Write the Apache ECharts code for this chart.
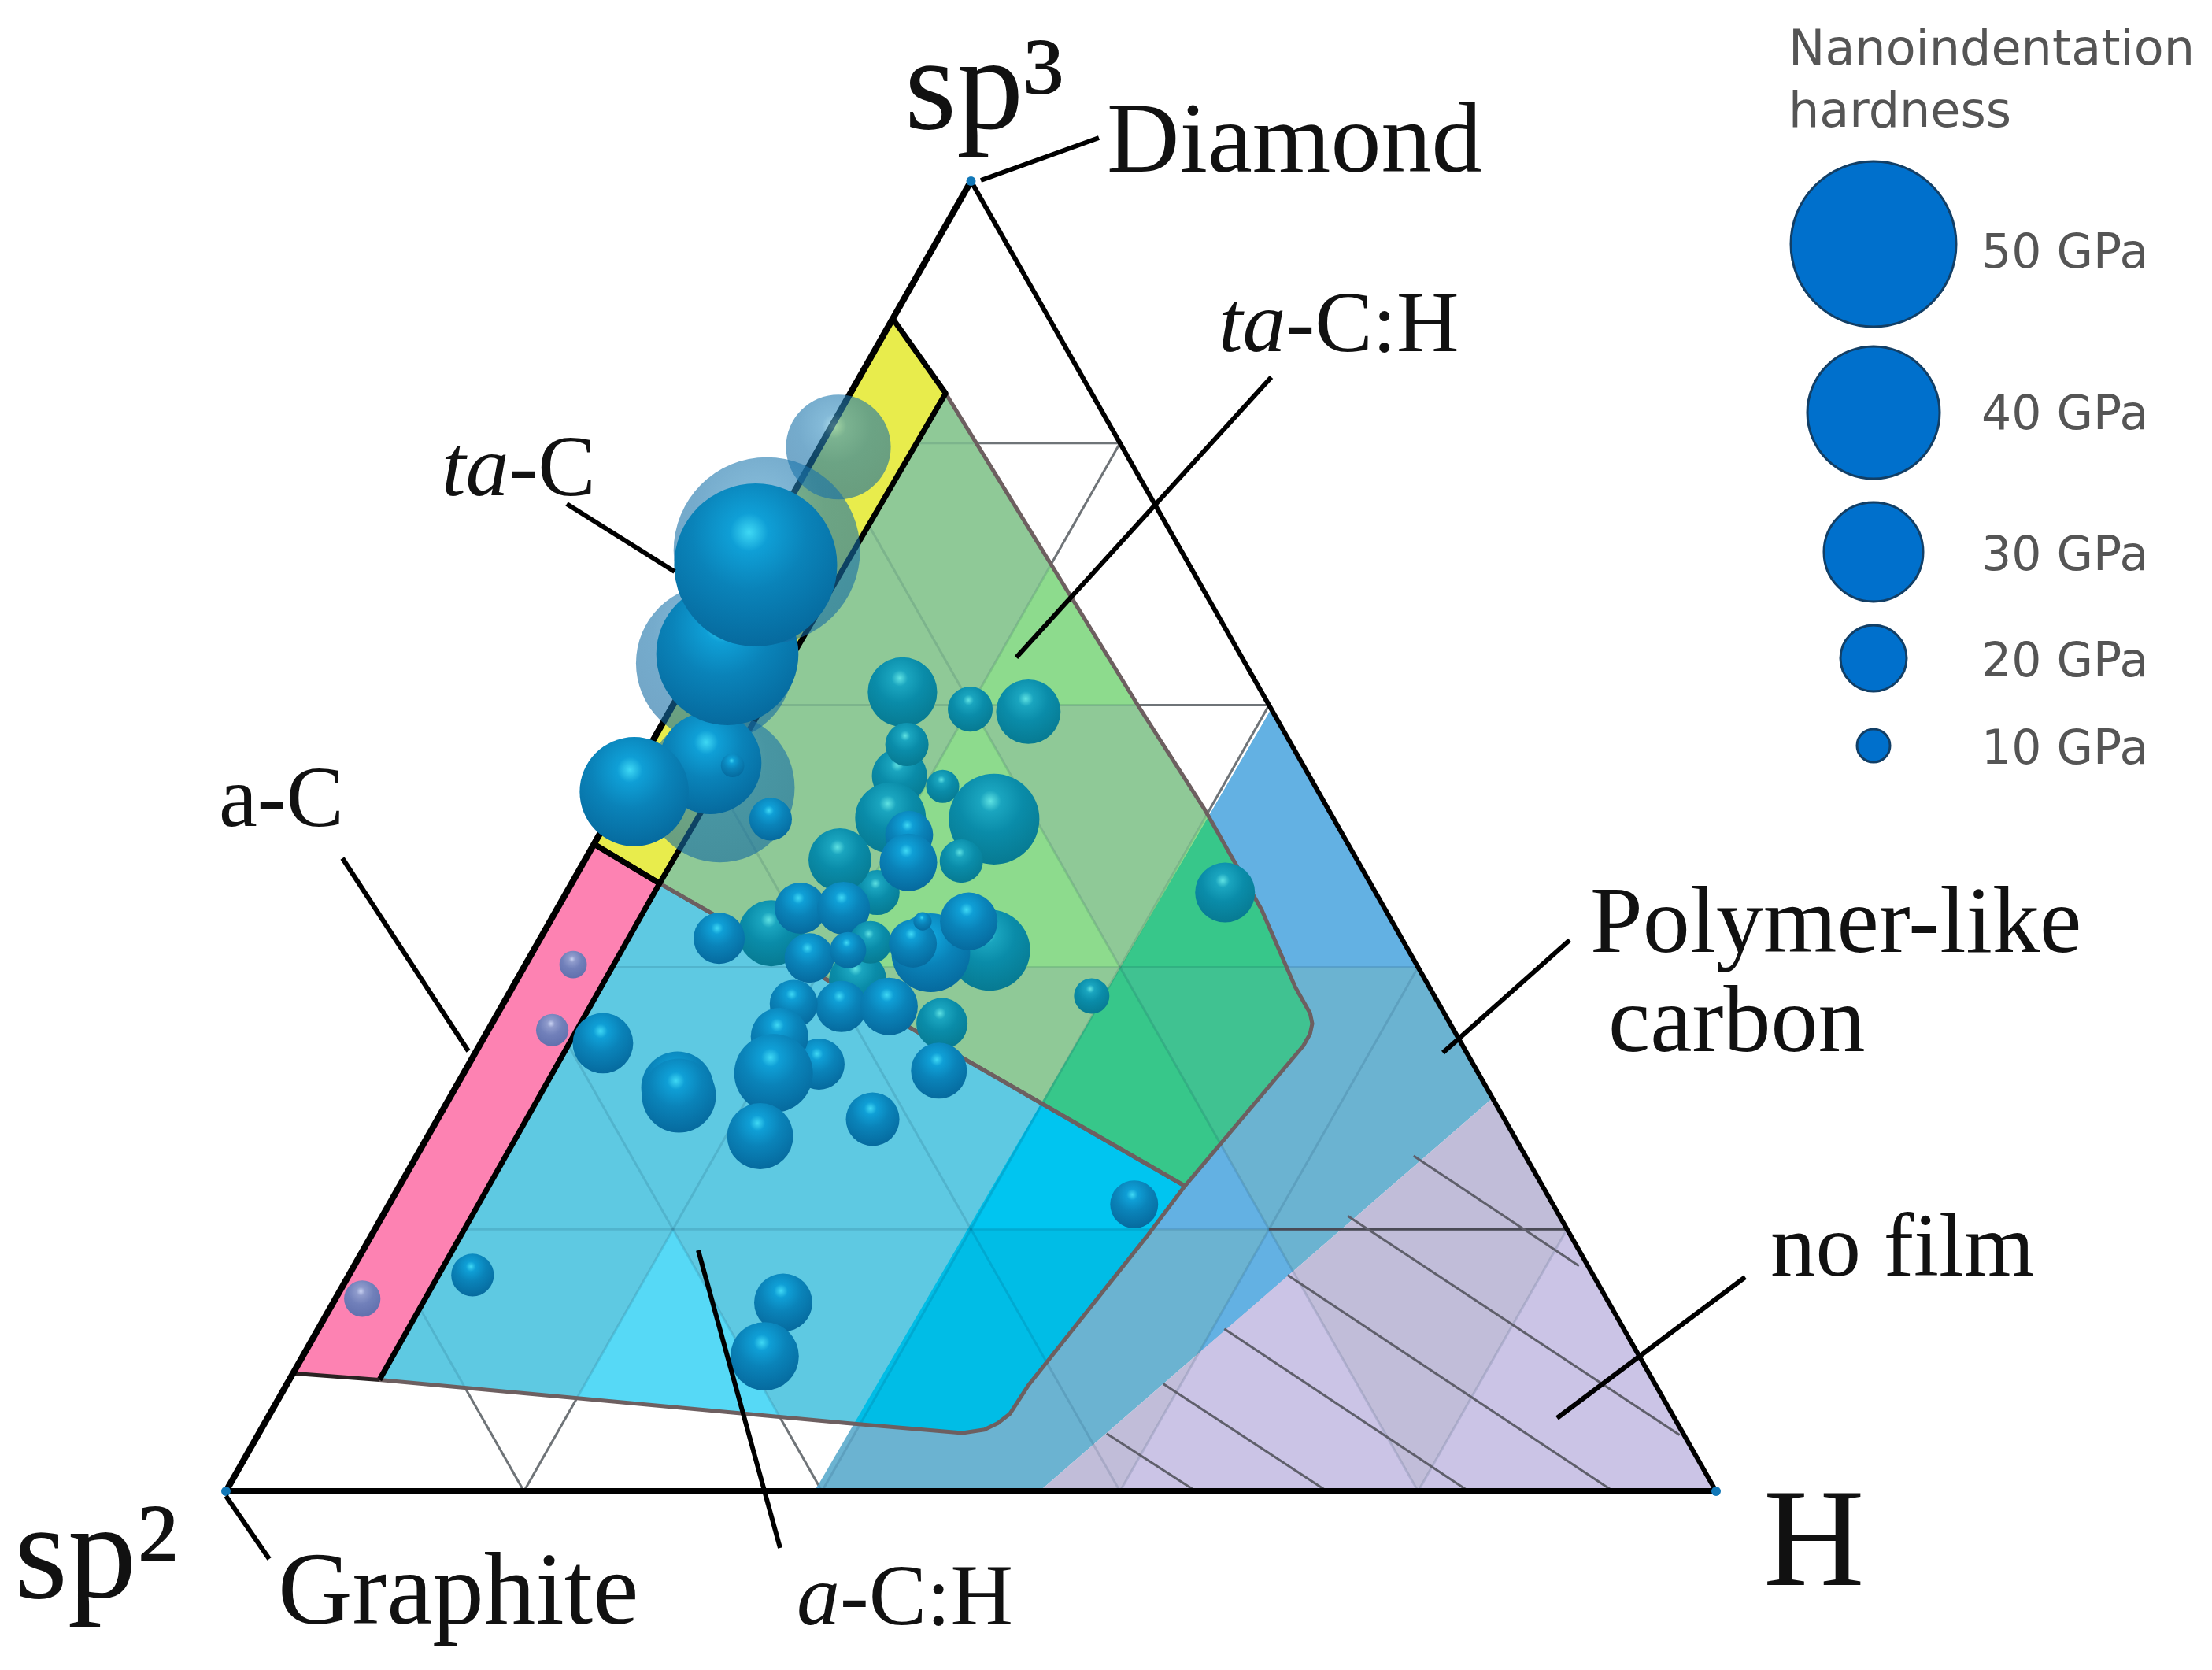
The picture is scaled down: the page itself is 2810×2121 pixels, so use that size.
<!DOCTYPE html>
<html>
<head>
<meta charset="utf-8">
<title>Ternary phase diagram of amorphous carbon</title>
<script src="https://cdn.jsdelivr.net/npm/echarts@6/dist/echarts.min.js"></script>
<style>
  html, body { margin: 0; background: #fff; }
  #chart { width: 2810px; height: 2121px; }
</style>
</head>
<body>
<div id="chart"></div>
<script>
// all compositions are percentages
// bubbles: sp3 content, H content, hardness (GPa), look of the sphere
const bubbleSp3 = [79.7, 53.7, 63.2, 55.6, 55.4, 63.9, 71.8, 70.7, 51.3, 53.4,
  61.0, 59.7, 59.5, 54.6, 57.0, 53.8, 51.3, 51.4, 50.1, 48.1, 45.7, 48.0, 48.2,
  42.6, 42.2, 44.5, 44.5, 39.0, 41.9, 40.7, 41.3, 41.3, 41.1, 41.8, 43.5, 43.5,
  37.0, 37.0, 35.7, 32.1, 37.2, 32.6, 34.7, 31.9, 30.8, 28.4, 37.8, 27.1, 34.2,
  30.2, 16.5, 14.4, 10.3, 21.9, 45.7, 40.2, 35.2, 14.7]
const bubbleH = [1.25, 6.3, 1.2, 4.7, 6.3, 1.7, 0.4, 0.2, 10.9, 0.7,
  14.9, 20.1, 24.1, 17.9, 17.2, 21.2, 25.9, 18.9, 20.8, 25.3, 20.85, 21.8, 17.1,
  15.3, 12.0, 16.3, 19.2, 22.9, 22.3, 18.8, 21.1, 30.6, 26.75, 25.2, 25.0, 28.1,
  22.8, 26.0, 30.2, 31.8, 19.5, 23.5, 19.8, 20.8, 14.9, 29.2, 39.2, 22.3, 8.2,
  15.3, 8.3, 30.2, 31.0, 50.0, 44.2, 3.2, 4.3, 1.8]
const bubbleHardness = [31.7, 45.2, 47.6, 31, 7.1, 43, 56.4, 49.3, 12.9, 33,
  21, 13.6, 19.5, 16.7, 13.1, 10, 27.4, 21.4, 14.5, 13.1, 13.6, 17.4, 19,
  20, 15.5, 15.5, 16, 17.4, 12.9, 15, 11, 24.5, 23.8, 14.5, 5.5, 17.4,
  15.5, 17.4, 15.5, 16.9, 14.5, 15.5, 17.4, 23.8, 21.9, 16.2, 10.7, 20, 18.3,
  22.4, 12.9, 17.6, 20.7, 14.5, 18.1, 8.3, 9.8, 11]
const bubbleKind = ['halo', 'halo', 'halo', 'deep', 'deep', 'deep', 'halo', 'deep', 'deep', 'deep',
  'teal', 'teal', 'teal', 'teal', 'teal', 'teal', 'teal', 'teal', 'deep', 'teal', 'teal', 'deep', 'teal',
  'teal', 'deep', 'deep', 'deep', 'teal', 'teal', 'deep', 'deep', 'teal', 'deep', 'deep', 'deep', 'deep',
  'deep', 'deep', 'teal', 'deep', 'deep', 'deep', 'deep', 'deep', 'deep', 'deep', 'teal', 'deep', 'deep',
  'deep', 'deep', 'deep', 'deep', 'deep', 'teal', 'violet', 'violet', 'violet']

// regions
const taCSp3 = [89.5, 83.8, 46.4, 49.4]
const taCH = [0, 6.4, 5.9, 0]
const aCSp3 = [49.4, 46.4, 8.5, 9.0]
const aCH = [0, 5.9, 6.05, 0]
const taCHSp3 = [83.8, 59.9, 52.0, 44.4, 38.5, 37.5, 36.5, 35.7, 34.9, 34.0, 23.3, 46.4]
const taCHH = [6.4, 31.3, 39.7, 47.3, 52.5, 53.5, 54.5, 55.05, 55.3, 55.3, 52.7, 5.9]
const aCHSp3 = [46.4, 23.3, 19.6, 8.05, 5.9, 5.2, 4.7, 4.45, 5.2, 8.5]
const aCHH = [5.9, 52.7, 52.1, 49.8, 49.65, 49.2, 48.55, 47.2, 39.1, 6.05]
const polymerSp3 = [59.7, 30, 0, 0]
const polymerH = [40.3, 70, 54.6, 39.5]
const noFilmSp3 = [30, 0, 0]
const noFilmH = [70, 100, 54.6]

// hatch over the no film region
const hatchStartSp3 = [4.4, 8.2, 12.4, 16.5, 21.0, 25.6]
const hatchStartH = [56.9, 58.8, 60.8, 63.0, 64.8, 66.9]
const hatchEndSp3 = [0, 0, 0, 0, 4.3, 17.2]
const hatchEndH = [65.1, 73.9, 83.4, 93.1, 95.4, 82.2]

// ternary grid, and the apex of the upward cells that are shaded lighter
const gridLevels = [20, 40, 60, 80]
const lightCellSp3 = [80, 60, 60, 40, 20, 20, 20]
const lightCellH = [20, 20, 40, 40, 20, 60, 80]

const legendHardness = [50, 40, 30, 20, 10]
const legendLabels = ['50 GPa', '40 GPa', '30 GPa', '20 GPa', '10 GPa']

const serif = '"Liberation Serif", serif'
const sans = '"DejaVu Sans", sans-serif'
const sizeOf = gpa => gpa * 4.2

// sp3/H to the x,y of the plain axes behind the triangle
const toXY = (sp3, h) => [h + sp3 / 2, sp3]
const polygon = (sp3s, hs) => sp3s.map((s, i) => toXY(s, hs[i]))

// cut a polygon down to a convex one
function clip (subject, convex) {
  let area = 0
  convex.forEach((p, i) => {
    const q = convex[(i + 1) % convex.length]
    area += p[0] * q[1] - q[0] * p[1]
  })
  const sign = area > 0 ? 1 : -1
  let output = subject
  convex.forEach((a, i) => {
    const b = convex[(i + 1) % convex.length]
    const side = p => sign * ((b[0] - a[0]) * (p[1] - a[1]) - (b[1] - a[1]) * (p[0] - a[0]))
    const input = output
    output = []
    input.forEach((p, j) => {
      const q = input[(j + 1) % input.length]
      const sp = side(p)
      const sq = side(q)
      if (sp >= 0) output.push(p)
      if ((sp >= 0) !== (sq >= 0)) {
        const t = sp / (sp - sq)
        output.push([p[0] + t * (q[0] - p[0]), p[1] + t * (q[1] - p[1])])
      }
    })
  })
  return output
}

const lightCells = lightCellSp3.map((s, i) => {
  const h = lightCellH[i]
  return [toXY(s, h), toXY(s - 20, h), toXY(s - 20, h + 20)]
})

const polymer = polygon(polymerSp3, polymerH)
const noFilm = polygon(noFilmSp3, noFilmH)
const taCHArea = polygon(taCHSp3, taCHH)
const aCHArea = polygon(aCHSp3, aCHH)
const taCArea = polygon(taCSp3, taCH)
const aCArea = polygon(aCSp3, aCH)

const fills = []
function addRegion (points, dark, light) {
  fills.push({ points, color: dark })
  lightCells.forEach(cell => {
    const part = clip(points, cell)
    if (part.length > 2) fills.push({ points: part, color: light })
  })
}
addRegion(polymer, '#6bb3d1', '#63b1e3')
addRegion(noFilm, '#c1bdd9', '#cbc4e6')
addRegion(taCHArea, '#8fc997', '#8ddb8d')
addRegion(aCHArea, '#5ec9e2', '#56d9f6')
addRegion(clip(taCHArea, polymer), '#40c291', '#37c78a')
addRegion(clip(aCHArea, polymer), '#00bde6', '#00c5f0')

// grid lines, in the three directions
const gridSegments = []
gridLevels.forEach(k => {
  gridSegments.push([toXY(k, 0), toXY(k, 100 - k)])
  gridSegments.push([toXY(0, k), toXY(100 - k, k)])
  gridSegments.push([toXY(0, 100 - k), toXY(100 - k, 0)])
})

const underLines = gridSegments.map(points => ({ points, color: '#808080', width: 3 }))
const overLines = gridSegments.map(points => ({ points, color: 'rgba(0,40,70,0.13)', width: 3 }))
overLines.push({ points: [toXY(20, 60), toXY(20, 80)], color: '#4a4a55', width: 3 })
hatchStartSp3.forEach((s, i) => {
  overLines.push({
    points: [toXY(s, hatchStartH[i]), toXY(hatchEndSp3[i], hatchEndH[i])],
    color: '#5f5f6b',
    width: 3
  })
})

const topFills = [
  { points: taCArea, color: '#e8ec4c' },
  { points: aCArea, color: '#fd82b2' }
]
const lines = []
// outlines of the film regions
lines.push({ points: taCHArea, color: '#6d5f60', width: 5 })
lines.push({ points: aCHArea, color: '#6d5f60', width: 5 })
lines.push({ points: taCArea.concat([taCArea[0]]), color: '#000', width: 7 })
lines.push({ points: aCArea.slice(0, 3), color: '#000', width: 7 })
lines.push({ points: [aCArea[2], aCArea[3]], color: '#2a2222', width: 5 })
// the triangle
lines.push({ points: [toXY(0, 0), toXY(100, 0)], color: '#000', width: 8 })
lines.push({ points: [toXY(100, 0), toXY(0, 100)], color: '#000', width: 6 })
lines.push({ points: [toXY(0, 0), toXY(0, 100)], color: '#000', width: 8 })

function sphere (kind) {
  const stops = {
    deep: ['#3fd8f4', '#0f9fd6', '#0a83b9', '#066a9e', '#07608a'],
    teal: ['#5fe2e2', '#1aa5bf', '#0a8ca9', '#077a92', '#086c82'],
    violet: ['#c9d2f2', '#8f9bcc', '#7180ba', '#6170ad', '#5866a3'],
    halo: ['rgba(120,200,225,0.6)', 'rgba(50,140,190,0.6)', 'rgba(25,115,170,0.6)', 'rgba(20,105,160,0.6)', 'rgba(15,95,145,0.62)']
  }[kind]
  return {
    type: 'radial',
    x: 0.46,
    y: 0.3,
    r: 0.78,
    colorStops: [
      { offset: 0, color: stops[0] },
      { offset: 0.15, color: stops[1] },
      { offset: 0.45, color: stops[2] },
      { offset: 0.9, color: stops[3] },
      { offset: 1, color: stops[4] }
    ]
  }
}

const bubbleData = bubbleSp3.map((s, i) => ({
  value: toXY(s, bubbleH[i]).concat(bubbleHardness[i]),
  itemStyle: { color: sphere(bubbleKind[i]), opacity: 1 }
}))

function shapeSeries (items, z) {
  return {
    type: 'custom',
    z,
    silent: true,
    coordinateSystem: 'cartesian2d',
    data: items.map((d, i) => [i]),
    renderItem (params, api) {
      const item = items[params.dataIndex]
      const points = item.points.map(p => api.coord(p))
      if (item.width) {
        return {
          type: 'polyline',
          shape: { points },
          style: { stroke: item.color, lineWidth: item.width, fill: null, lineJoin: 'round' }
        }
      }
      return { type: 'polygon', shape: { points }, style: { fill: item.color } }
    }
  }
}

// labels and leaders sit in screen space
const text = (x, y, str, size, extra) => ({
  type: 'text',
  x,
  y,
  z: 20,
  silent: true,
  style: Object.assign({
    text: str,
    fontFamily: serif,
    fontSize: size,
    fill: '#111',
    align: 'left',
    verticalAlign: 'middle'
  }, extra)
})
const italic = size => ({
  rich: { i: { fontStyle: 'italic', fontFamily: serif, fontSize: size, fill: '#111' } }
})
const leader = (x1, y1, x2, y2) => ({
  type: 'line',
  z: 20,
  silent: true,
  shape: { x1, y1, x2, y2 },
  style: { stroke: '#000', lineWidth: 6 }
})

const legendY = [310, 524, 701, 836, 947]
const legendLabelY = [324, 529, 708, 843, 954]
const graphics = [
  text(1149, 118, 'sp³', 170),
  text(1406, 184, 'Diamond', 128),
  text(1548, 417, '{i|ta}-C:H', 110, italic(110)),
  text(561, 600, '{i|ta}-C', 110, italic(110)),
  text(278, 1020, 'a-C', 110),
  text(2020, 1177, 'Polymer-like', 120),
  text(2043, 1303, 'carbon', 120),
  text(2249, 1590, 'no film', 115),
  text(1012, 2034, '{i|a}-C:H', 110, italic(110)),
  text(353, 2028, 'Graphite', 131),
  text(18, 1983, 'sp²', 175),
  text(2240, 1966, 'H', 178),
  leader(1246, 229, 1396, 175),
  leader(1291, 835, 1615, 479),
  leader(720, 640, 857, 726),
  leader(435, 1090, 595, 1335),
  leader(1994, 1194, 1833, 1337),
  leader(2217, 1622, 1978, 1801),
  leader(887, 1588, 991, 1966),
  leader(287, 1900, 342, 1980),
  text(2272, 66, 'Nanoindentation', 62, { fontFamily: sans, fill: '#555' }),
  text(2272, 145, 'hardness', 62, { fontFamily: sans, fill: '#555' })
]
legendHardness.forEach((gpa, i) => {
  graphics.push({
    type: 'circle',
    z: 20,
    silent: true,
    shape: { cx: 2380, cy: legendY[i], r: sizeOf(gpa) / 2 },
    style: { fill: '#0070cc', stroke: '#123f66', lineWidth: 3 }
  })
  graphics.push(text(2517, legendLabelY[i], legendLabels[i], 60, { fontFamily: sans, fill: '#555' }))
})

const myChart = echarts.init(document.getElementById('chart'), null, { renderer: 'canvas' })
myChart.setOption({
  animation: false,
  backgroundColor: '#fff',
  grid: { left: 287, top: 230, width: 1893, height: 1664 },
  xAxis: { type: 'value', min: 0, max: 100, show: false },
  yAxis: { type: 'value', min: 0, max: 100, show: false },
  series: [
    shapeSeries(underLines, 1),
    shapeSeries(fills, 2),
    shapeSeries(overLines, 3),
    shapeSeries(topFills, 4),
    shapeSeries(lines, 5),
    {
      type: 'scatter',
      z: 6,
      clip: false,
      silent: true,
      symbol: 'circle',
      symbolSize: 12,
      itemStyle: { color: '#1278b8', opacity: 1 },
      data: [toXY(100, 0), toXY(0, 0), toXY(0, 100)]
    },
    {
      type: 'scatter',
      z: 7,
      clip: false,
      silent: true,
      symbol: 'circle',
      symbolSize: v => sizeOf(v[2]),
      data: bubbleData
    }
  ],
  graphic: graphics
})
</script>
</body>
</html>
